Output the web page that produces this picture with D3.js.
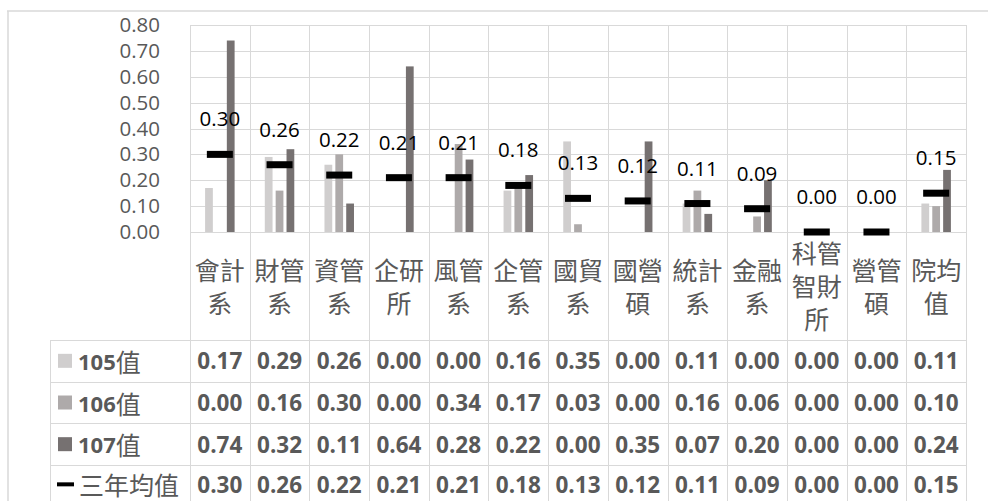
<!DOCTYPE html>
<html><head><meta charset="utf-8">
<script src="https://cdn.jsdelivr.net/npm/d3@7"></script>
<style>body{margin:0;background:#fff;} svg{display:block;}</style>
</head><body>
<svg id="c" width="988" height="501"></svg>
<script>
const categories = ["會計\n系","財管\n系","資管\n系","企研\n所","風管\n系","企管\n系","國貿\n系","國營\n碩","統計\n系","金融\n系","科管\n智財\n所","營管\n碩","院均\n值"];
const seriesNames = ["105值","106值","107值"];
const series105 = [0.17,0.29,0.26,0.00,0.00,0.16,0.35,0.00,0.11,0.00,0.00,0.00,0.11];
const series106 = [0.00,0.16,0.30,0.00,0.34,0.17,0.03,0.00,0.16,0.06,0.00,0.00,0.10];
const series107 = [0.74,0.32,0.11,0.64,0.28,0.22,0.00,0.35,0.07,0.20,0.00,0.00,0.24];
const avgName = "三年均值";
const avgValues = [0.30,0.26,0.22,0.21,0.21,0.18,0.13,0.12,0.11,0.09,0.00,0.00,0.15];
const yTicks = [0,0.1,0.2,0.3,0.4,0.5,0.6,0.7,0.8];
const colors = ["#d0cece","#aeaaaa","#767171"];

const allSeries = [series105, series106, series107];
const svg = d3.select("#c");
const L = 190, R = 966, T = 25, B = 232;
const tableTop = 340, rowH = 41.67, tableLeft = 50;
const grid = "#d9d9d9", textGray = "#595959";
const numFont = "'Open Sans', Lato, sans-serif";
const cjkFont = "'Noto Sans CJK TC', sans-serif";

const x = d3.scaleBand().domain(d3.range(categories.length)).range([L, R]);
const bw = x.bandwidth();
const x1 = d3.scaleBand().domain(d3.range(3)).range([bw/2 - 14.75, bw/2 + 14.75]).paddingInner(0.286);
const y = d3.scaleLinear().domain([0, 0.8]).range([B, T]);

// outer chart border
svg.append("line").attr("x1",7).attr("x2",988).attr("y1",11).attr("y2",11).attr("stroke","#d9d9d9").attr("stroke-width",1.5);
svg.append("line").attr("x1",8).attr("x2",8).attr("y1",11).attr("y2",501).attr("stroke","#d9d9d9").attr("stroke-width",1.5);

// horizontal gridlines
svg.append("g").selectAll("line").data(yTicks).join("line")
  .attr("x1", L).attr("x2", R).attr("y1", d => Math.round(y(d))+0.5).attr("y2", d => Math.round(y(d))+0.5)
  .attr("stroke", grid).attr("stroke-width", 1);

// vertical gridlines (plot + table)
const bounds = d3.range(categories.length).map(i => x(i)).concat([R]);
svg.append("g").selectAll("line").data(bounds).join("line")
  .attr("x1", d => Math.round(d)+0.5).attr("x2", d => Math.round(d)+0.5)
  .attr("y1", T).attr("y2", 501).attr("stroke", grid).attr("stroke-width", 1);

// table lines
svg.append("line").attr("x1", tableLeft+0.5).attr("x2", tableLeft+0.5).attr("y1", tableTop).attr("y2", 501).attr("stroke", grid);
svg.append("g").selectAll("line").data(d3.range(4)).join("line")
  .attr("x1", tableLeft).attr("x2", R).attr("y1", d => Math.round(tableTop + d*rowH)+0.5).attr("y2", d => Math.round(tableTop + d*rowH)+0.5)
  .attr("stroke", grid);

// y axis
const yAxis = svg.append("g").attr("transform", `translate(${L},0)`)
  .call(d3.axisLeft(y).tickValues(yTicks).tickFormat(d3.format(".2f")).tickSize(0).tickPadding(30));
yAxis.select(".domain").remove();
yAxis.selectAll("text").attr("font-family", numFont).attr("font-size", 20.5).attr("fill", textGray);

// bars
allSeries.forEach((s, si) => {
  svg.append("g").selectAll("rect").data(s).join("rect")
    .attr("x", (d, i) => x(i) + x1(si))
    .attr("width", x1.bandwidth())
    .attr("y", d => y(d))
    .attr("height", d => B - y(d))
    .attr("fill", colors[si]);
});

// average markers
svg.append("g").selectAll("rect").data(avgValues).join("rect")
  .attr("x", (d, i) => x(i) + bw/2 - 13)
  .attr("width", 26)
  .attr("y", d => y(d) - 3.5)
  .attr("height", 7)
  .attr("fill", "#000");

// average labels
svg.append("g").selectAll("text").data(avgValues).join("text")
  .attr("x", (d, i) => x(i) + bw/2)
  .attr("y", d => y(d) - 28)
  .attr("text-anchor", "middle")
  .attr("font-family", numFont).attr("font-size", 20.5).attr("fill", "#000")
  .text(d => d3.format(".2f")(d));

// category labels
const lh = 33, midY = 285;
categories.forEach((c, i) => {
  const lines = c.split("\n");
  const t = svg.append("text").attr("text-anchor", "middle")
    .attr("font-family", cjkFont).attr("font-size", 25).attr("fill", textGray);
  lines.forEach((ln, k) => {
    t.append("tspan").attr("x", x(i) + bw/2)
      .attr("y", midY + (k - (lines.length - 1)/2) * lh)
      .attr("dominant-baseline", "central").text(ln);
  });
});

// table rows
const rows = [
  {name: seriesNames[0], vals: series105, key: 0},
  {name: seriesNames[1], vals: series106, key: 1},
  {name: seriesNames[2], vals: series107, key: 2},
  {name: avgName, vals: avgValues, key: 3}
];
rows.forEach((r, ri) => {
  const cy = tableTop + ri*rowH + rowH/2 - (r.key === 3 ? 1.5 : 0);
  svg.append("g").selectAll("text").data(r.vals).join("text")
    .attr("x", (d, i) => x(i) + bw/2).attr("y", cy)
    .attr("text-anchor", "middle").attr("dominant-baseline", "central")
    .attr("font-family", numFont).attr("font-weight", "bold").attr("font-size", 22.5).attr("fill", textGray)
    .text(d => d3.format(".2f")(d));
  if (r.key < 3) {
    svg.append("rect").attr("x", 58).attr("y", cy - 7).attr("width", 14).attr("height", 14).attr("fill", colors[r.key]);
    const t = svg.append("text").attr("x", 78).attr("y", cy).attr("dominant-baseline", "central").attr("fill", textGray);
    const m = r.name.match(/^(\d+)(.*)$/);
    t.append("tspan").attr("font-family", numFont).attr("font-weight", "bold").attr("font-size", 22).text(m[1]);
    t.append("tspan").attr("font-family", cjkFont).attr("font-size", 25).text(m[2]);
  } else {
    svg.append("rect").attr("x", 57).attr("y", cy - 2).attr("width", 17).attr("height", 4).attr("fill", "#000");
    svg.append("text").attr("x", 79).attr("y", cy).attr("dominant-baseline", "central")
      .attr("font-family", cjkFont).attr("font-size", 25).attr("fill", textGray).text(r.name);
  }
});
</script>
</body></html>
